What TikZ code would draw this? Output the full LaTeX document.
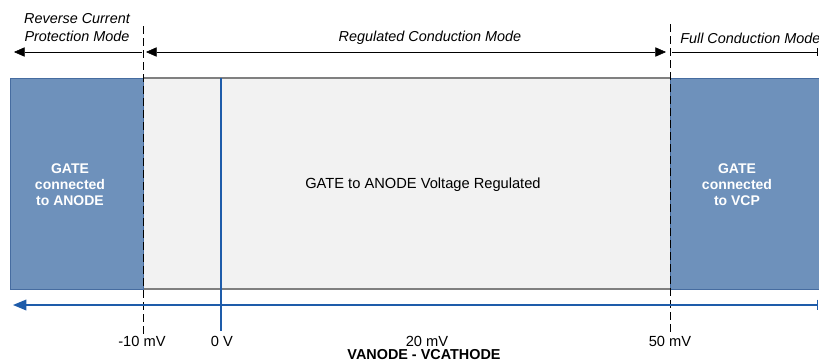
\documentclass[tikz,border=0pt]{standalone}
\usepackage{fontspec}
\setmainfont{Liberation Sans}
\usepackage{xcolor}
\usetikzlibrary{arrows.meta}
\definecolor{gateblue}{RGB}{110,145,187}
\definecolor{gateedge}{RGB}{70,108,160}
\definecolor{axisblue}{RGB}{30,92,170}
\definecolor{regfill}{RGB}{242,242,242}
\definecolor{regedge}{RGB}{128,128,128}

\begin{document}
\begin{tikzpicture}[x=0.75pt, y=-0.75pt,
  modetext/.style={font=\itshape\fontsize{10.8}{13.5}\selectfont, align=center, inner sep=0pt},
  gatetext/.style={font=\bfseries\fontsize{10.5}{12}\selectfont, text=white, align=center},
  plaintext/.style={font=\fontsize{11}{13}\selectfont, inner sep=0pt},
  tickmark/.style={font=\fontsize{11}{13}\selectfont, inner sep=0pt},
  modearrow/.style={thin},
  border/.style={dashed, dash pattern=on 6pt off 3pt, semithick}]
 \useasboundingbox (0,0) rectangle (819,362);
 \clip (0,0) rectangle (819,362);

 \fill[regfill] (143,78) rectangle (670,289);
 \draw[regedge, line width=1.4pt] (143,78) -- (670,78);
 \draw[regedge, line width=1.4pt] (143,289) -- (670,289);
 \draw[gateedge, fill=gateblue] (10,78) rectangle (143,289);
 \draw[gateedge, fill=gateblue] (670,78) rectangle (830,289);

 \node[gatetext] (ANODE) at (70,185) {GATE\\connected\\to ANODE};
 \node[plaintext] (REG) at (423,185) {GATE to ANODE Voltage Regulated};
 \node[gatetext] (VCP) at (737,185) {GATE\\connected\\to VCP};

 \node[modetext] (REVERSE) at (77,28) {Reverse Current\\Protection Mode};
 \node[modetext] (REGULATED) at (430,38) {Regulated Conduction Mode};
 \node[modetext, anchor=west] (FULL) at (680,38) {Full Conduction Mode};

 \coordinate (LOWTOP) at (143,26);
 \coordinate (LOWBOT) at (143,334);
 \coordinate (HIGHTOP) at (670,24);
 \coordinate (HIGHBOT) at (670,334);
 \coordinate (ZEROTOP) at (221,78);
 \coordinate (ZEROBOT) at (221,331);
 \draw[border] (LOWTOP) -- (LOWBOT);
 \draw[border] (HIGHTOP) -- (HIGHBOT);
 \draw[axisblue, line width=1.2pt] (ZEROTOP) -- (ZEROBOT);

 \coordinate (REVL) at (14,52);
 \coordinate (REVR) at (142,52);
 \coordinate (REGL) at (146,52);
 \coordinate (REGR) at (666,52);
 \coordinate (FULLL) at (672,52);
 \coordinate (FULLR) at (818,52);
 \draw[->, >={Stealth[length=8pt,width=7pt,inset=0pt]}, modearrow] (REVR) -- (REVL);
 \draw[<->, >={Stealth[length=8pt,width=7pt,inset=0pt]}, modearrow] (REGL) -- (REGR);
 \draw[-{Bar[width=6pt]}, modearrow] (FULLL) -- (FULLR);

 \coordinate (AXISL) at (13,305);
 \coordinate (AXISR) at (818,305);
 \draw[{Stealth[length=10pt,width=8pt,inset=0pt]}-{Bar[width=8pt]}, axisblue, line width=1pt] (AXISL) -- (AXISR);

 \node[tickmark] (MINUS10) at (142,341) {-10 mV};
 \node[tickmark] (ZERO) at (222,341) {0 V};
 \node[tickmark] (TWENTY) at (427,341) {20 mV};
 \node[tickmark] (FIFTY) at (670,341) {50 mV};
 \node[font=\bfseries\fontsize{10.8}{13}\selectfont, inner sep=0pt] (VDIFF) at (424,354.5) {VANODE - VCATHODE};
\end{tikzpicture}
\end{document}
